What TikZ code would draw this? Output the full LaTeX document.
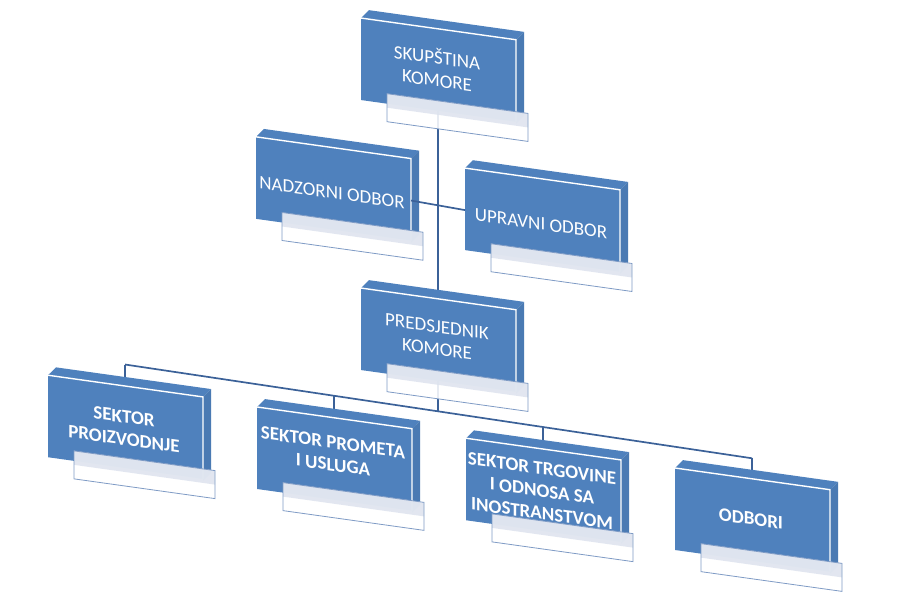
\documentclass[tikz,border=0pt]{standalone}
\usepackage{fontspec}
\setmainfont{Carlito}
\pgfdeclarelayer{bg}
\pgfsetlayers{bg,main}
\definecolor{boxblue}{HTML}{4F81BD}
\definecolor{sideblue}{HTML}{4A7AB3}
\definecolor{linkblue}{HTML}{3B6198}
\definecolor{labeledge}{HTML}{7F9BC5}
\definecolor{labelband}{HTML}{DDE3EE}
\tikzset{
  frontface/.style={fill=boxblue},
  topface/.style={fill=boxblue},
  sideface/.style={fill=sideblue},
  whiteedge/.style={draw=white, line width=1.4pt},
  labelbg/.style={fill=white, fill opacity=0.88},
  labeltopband/.style={fill=labelband, fill opacity=0.85},
  labelrim/.style={draw=labeledge, line width=0.8pt},
  link/.style={draw=linkblue, line width=1.7pt},
  boxtext/.style={text=white, align=center, transform shape, inner sep=0pt, font=\fontsize{19}{22.5}\selectfont},
  boxtextbold/.style={boxtext, font=\bfseries\fontsize{19}{22.5}\selectfont},
}
\newcommand\OrgBox[6]{%
  \begin{scope}[shift={(#2,#3)}]
    \path[topface] (0,0) -- (8,-9) -- (163,-9) -- (155,0) -- cycle;
    \path[sideface] (155,0) -- (163,-9) -- (163,75) -- (155,84) -- cycle;
    \path[frontface] (0,0) rectangle (155,82);
    \draw[whiteedge] (0,0) -- (155,0) -- (155,82);
    \path[labelbg] (26,72) rectangle (167,100);
    \path[labeltopband] (26,72) rectangle (167,86);
    \draw[labelrim] (26,72) rectangle (167,100);
    \node[#6] (#1) at (76,#5) {#4};
    \coordinate (#1-t) at (77,0);
    \coordinate (#1-b) at (77,82);
    \coordinate (#1-l) at (0,42);
    \coordinate (#1-r) at (155,42);
  \end{scope}}
\begin{document}
\begin{tikzpicture}[x=1pt, y=-1pt]
\useasboundingbox (0,0) rectangle (900,600);
\begin{scope}[yslant=-0.14]
  \OrgBox{skup}{361}{-32.5}{SKUPŠTINA\\KOMORE}{39}{boxtext}
  \OrgBox{nadz}{256}{101}{NADZORNI ODBOR}{45}{boxtext}
  \OrgBox{upra}{465}{103}{UPRAVNI ODBOR}{45}{boxtext}
  \OrgBox{pred}{361}{237.5}{PREDSJEDNIK\\KOMORE}{39}{boxtext}
  \OrgBox{proi}{48}{368.5}{SEKTOR\\PROIZVODNJE}{42}{boxtextbold}
  \OrgBox{prom}{257}{371}{SEKTOR PROMETA\\I USLUGA}{36}{boxtextbold}
  \OrgBox{trgo}{466}{373}{SEKTOR TRGOVINE\\I ODNOSA SA\\INOSTRANSTVOM}{42}{boxtextbold}
  \OrgBox{odbo}{675}{373.5}{ODBORI}{40}{boxtextbold}
  \coordinate (bus1) at (125,347);
  \coordinate (bus2) at (334,349);
  \coordinate (busP) at (438,350);
  \coordinate (bus3) at (543,351);
  \coordinate (bus4) at (752,353);
\end{scope}
\draw[link] (nadz-r) -- (upra-l);
\begin{pgfonlayer}{bg}
  \draw[link] (skup-b) -- (pred-t);
  \draw[link] (pred-b) -- (busP);
  \draw[link] (bus1) -- (bus4);
  \draw[link] (bus1) -- (proi-t);
  \draw[link] (bus2) -- (prom-t);
  \draw[link] (bus3) -- (trgo-t);
  \draw[link] (bus4) -- (odbo-t);
\end{pgfonlayer}
\end{tikzpicture}
\end{document}
